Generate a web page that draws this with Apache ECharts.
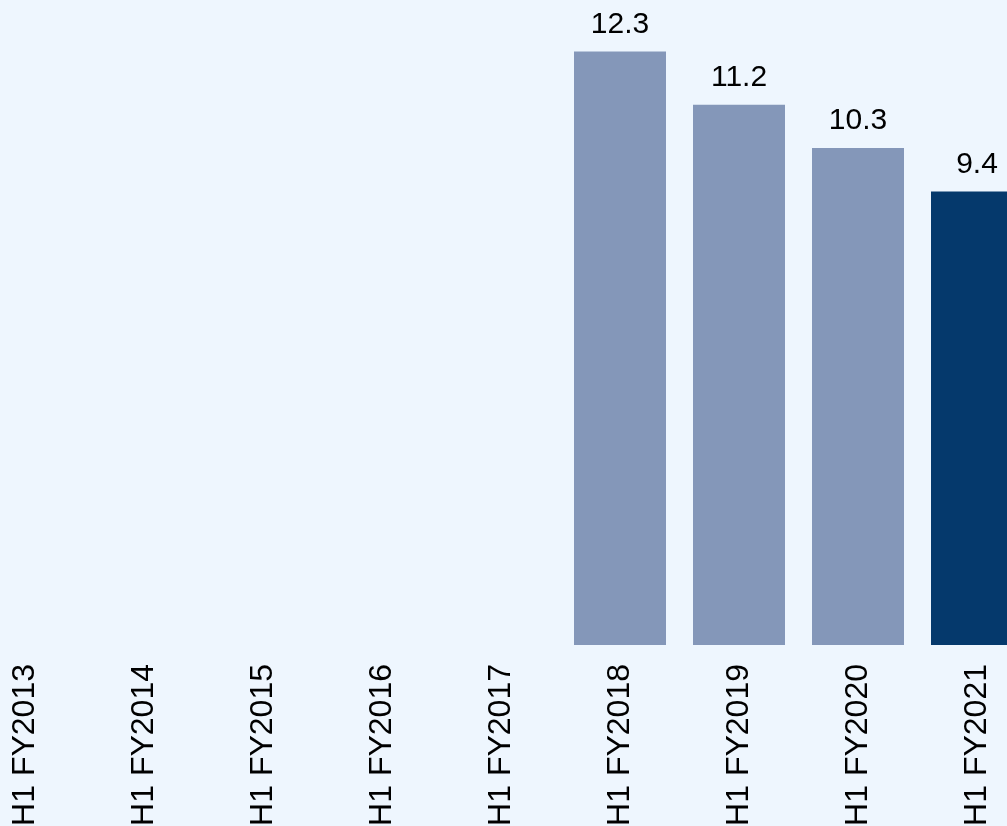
<!DOCTYPE html>
<html>
<head>
<meta charset="utf-8">
<script src="https://cdn.jsdelivr.net/npm/echarts@6/dist/echarts.min.js"></script>
<style>
  html, body { margin: 0; padding: 0; background: #EEF6FE; }
  #chart { width: 1007px; height: 826px; }
</style>
</head>
<body>
<div id="chart"></div>
<script>
  // categories and values
  const periods = ['H1 FY2013', 'H1 FY2014', 'H1 FY2015', 'H1 FY2016', 'H1 FY2017',
    'H1 FY2018', 'H1 FY2019', 'H1 FY2020', 'H1 FY2021'];
  const values = [null, null, null, null, null, 12.3, 11.2, 10.3, 9.4];
  const highlightIndex = 8; // latest period is drawn darker

  const chart = echarts.init(document.getElementById('chart'));

  chart.setOption({
    backgroundColor: '#EEF6FE',
    animation: false,
    grid: {
      left: -34.5,
      right: -29.5,
      top: 0,
      bottom: 181,
      outerBoundsMode: 'none',
      containLabel: false
    },
    xAxis: {
      type: 'category',
      data: periods,
      axisLine: { show: false },
      axisTick: { show: false },
      axisLabel: {
        rotate: 90,
        interval: 0,
        margin: 19,
        color: '#000',
        fontSize: 32,
        fontFamily: 'Liberation Sans, Arial, sans-serif'
      }
    },
    yAxis: {
      type: 'value',
      min: 0,
      max: 13.37,
      show: false,
      splitLine: { show: false }
    },
    series: [{
      type: 'bar',
      barWidth: 92,
      data: values.map((v, i) => ({
        value: v,
        itemStyle: { color: i === highlightIndex ? '#05396C' : '#8497B9' }
      })),
      label: {
        show: true,
        position: 'top',
        distance: 12,
        color: '#000',
        fontSize: 30,
        fontFamily: 'Liberation Sans, Arial, sans-serif'
      }
    }]
  });
</script>
</body>
</html>
